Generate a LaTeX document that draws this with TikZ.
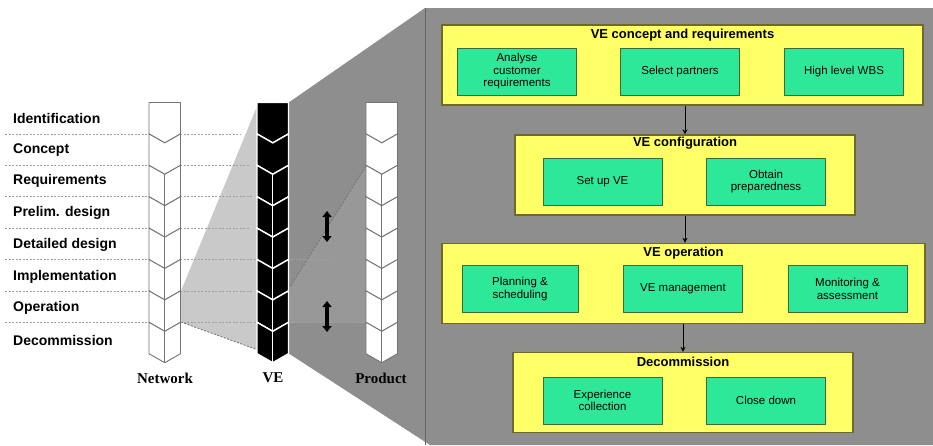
\documentclass[tikz,border=0pt]{standalone}
\usepackage{fontspec}
\setmainfont{Liberation Sans}
\newfontfamily\serifb{Liberation Serif}
\usetikzlibrary{arrows.meta,calc}
\definecolor{panelgray}{HTML}{8E8E8E}
\definecolor{panelline}{HTML}{666666}
\definecolor{lightgraytwo}{HTML}{C9C9C9}
\definecolor{midgray}{HTML}{989898}
\definecolor{boxyellow}{HTML}{FFFF66}
\definecolor{boxgreen}{HTML}{2EE89A}
\definecolor{yborder}{HTML}{6E6A2E}
\definecolor{gborder}{HTML}{3E6B3A}
\definecolor{chevgray}{HTML}{747474}
\definecolor{dotgray}{HTML}{A0A0A0}

\newcommand\drawcolumn[4]{%
  \pgfmathsetmacro\cR{#1+31.5}%
  \pgfmathsetmacro\cC{#1+15.75}%
  \foreach \i in {0,...,7}{%
    \pgfmathsetmacro\ya{102.5+31.4*\i}%
    \pgfmathsetmacro\yb{102.5+31.4*(\i+1)}%
    \ifnum\i=0
      \draw[fill=#2,draw=#3,line width=#4,line join=miter] (#1,\ya) -- (\cR,\ya) -- (\cR,\yb) -- (\cC,\yb+9) -- (#1,\yb) -- cycle;
    \else
      \draw[fill=#2,draw=#3,line width=#4,line join=miter] (#1,\ya) -- (\cC,\ya+9) -- (\cR,\ya) -- (\cR,\yb) -- (\cC,\yb+9) -- (#1,\yb) -- cycle;
    \fi
  }%
  \draw[draw=#3,line width=0.9pt] (\cC,102.5+31.4*2+9) -- (\cC,102.5+31.4*8+9);
}

\begin{document}
\begin{tikzpicture}[x=1pt,y=-1pt,
  phase/.style={draw=yborder,line width=1.3pt,fill=boxyellow,minimum height=80pt,inner sep=0pt},
  task/.style={draw=gborder,line width=1pt,fill=boxgreen,minimum height=47pt,minimum width=119pt,align=center,inner sep=1pt,font=\fontsize{11.5}{12.5}\selectfont},
  phtitle/.style={font=\bfseries\fontsize{13}{15}\selectfont,inner sep=0pt},
  lbl/.style={anchor=west,inner sep=0pt,font=\bfseries\fontsize{14}{16}\selectfont},
  collbl/.style={inner sep=0pt,font=\serifb\bfseries\fontsize{15}{17}\selectfont},
  link/.style={draw=black,line width=0.8pt,-{Stealth[length=5pt,width=5pt]}},
  dbl/.style={draw=black,line width=3.6pt,{Triangle[length=6pt,width=9pt]}-{Triangle[length=6pt,width=9pt]}},
  dotline/.style={draw=dotgray,line width=0.8pt,dash pattern=on 2pt off 1.5pt}
]
\useasboundingbox (0,0) rectangle (933,445);
\fill[white] (0,0) rectangle (933,445);

% light gray funnel (network -> VE)
\fill[lightgraytwo] (181,291) -- (258,104) -- (258,350) -- (181,322) -- cycle;
\draw[dotline,draw=chevgray] (181,322) -- (258,350);

% dark gray funnel (VE -> panel) and panel
\fill[panelgray] (288,103) -- (425,8) -- (933,8) -- (933,445) -- (430,445) -- (288,353) -- cycle;
\draw[panelline,line width=1pt] (425,8) -- (425,445);
% lighter area between VE and product
\fill[midgray] (366,166) -- (290,287) -- (290,322.8) -- (366,322.8) -- cycle;
\draw[dotline,draw=chevgray] (366,166) -- (290,287);

% horizontal dotted lines
\draw[dotline] (5,133.9) -- (240,133.9);
\draw[dotline] (5,165.3) -- (250,165.3);
\draw[dotline] (5,196.7) -- (253,196.7);
\draw[dotline] (5,228.1) -- (250,228.1);
\draw[dotline] (5,259.5) -- (333,259.5);
\draw[dotline] (5,290.9) -- (253,290.9);
\draw[dotline] (5,322.3) -- (366,322.3);

% columns
\drawcolumn{149}{white}{chevgray}{0.9pt}
\drawcolumn{257}{black}{white}{1.4pt}
\drawcolumn{366}{white}{chevgray}{0.9pt}

% double arrows
\coordinate (a1t) at (327,211);
\coordinate (a1b) at (327,242);
\coordinate (a2t) at (327,301);
\coordinate (a2b) at (327,332);
\draw[dbl] (a1t) -- (a1b);
\draw[dbl] (a2t) -- (a2b);

% phase labels
\node[lbl] (l1) at (13,118) {Identification};
\node[lbl] (l2) at (13,150) {Concept};
\node[lbl] (l3) at (13,181) {Requirements};
\node[lbl] (l4) at (13,213) {Prelim. design};
\node[lbl] (l5) at (13,245) {Detailed design};
\node[lbl] (l6) at (13,277) {Implementation};
\node[lbl] (l7) at (13,308) {Operation};
\node[lbl] (l8) at (13,340) {Decommission};

% column labels
\node[collbl] (cn) at (165,378) {Network};
\node[collbl] (cv) at (273,378) {VE};
\node[collbl] (cp) at (381,378) {Product};

% right side boxes
\node[phase,minimum width=481pt] (b1) at (682.5,65) {};
\node[phtitle] (t1) at (682.5,35) {VE concept and requirements};
\node[task] (b1a) at (517,71.5) {Analyse\\customer\\requirements};
\node[task] (b1b) at (680,71.5) {Select partners};
\node[task] (b1c) at (844,71.5) {High level WBS};

\node[phase,minimum width=340pt] (b2) at (685,175) {};
\node[phtitle] (t2) at (685,143) {VE configuration};
\node[task] (b2a) at (602.5,181.5) {Set up VE};
\node[task] (b2b) at (766,181.5) {Obtain\\preparedness};

\node[phase,minimum width=483pt] (b3) at (683.5,283.5) {};
\node[phtitle] (t3) at (683.5,253) {VE operation};
\node[task,minimum width=116pt] (b3a) at (520,289) {Planning \&\\scheduling};
\node[task] (b3b) at (683,289) {VE management};
\node[task] (b3c) at (847.5,289) {Monitoring \&\\assessment};

\node[phase,minimum width=340pt] (b4) at (683,392.5) {};
\node[phtitle] (t4) at (683,362) {Decommission};
\node[task] (b4a) at (602.5,400.5) {Experience\\collection};
\node[task] (b4b) at (766,400.5) {Close down};

\draw[link] (b2.north |- b1.south) -- (b2.north);
\draw[link] (b2.south) -- (b2.south |- b3.north);
\draw[link] (b3.south -| b4.north) -- (b4.north);
\end{tikzpicture}
\end{document}
